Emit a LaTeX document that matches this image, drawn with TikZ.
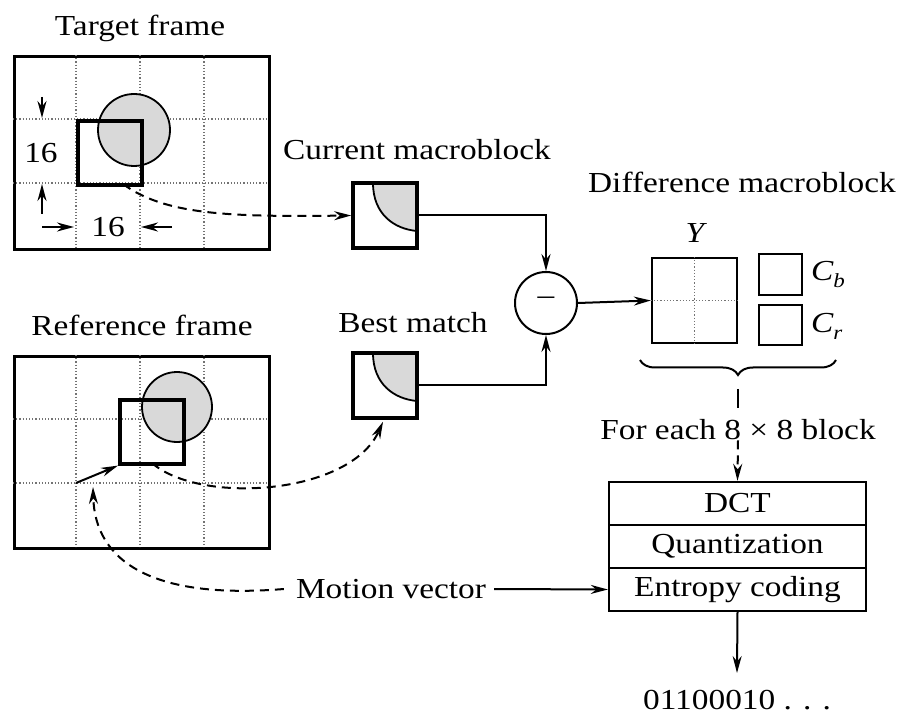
\documentclass[tikz,border=0pt]{standalone}
\usepackage{fontspec}
\setmainfont{Liberation Serif}[FakeStretch=1.15]
\usetikzlibrary{arrows.meta,decorations.pathreplacing}
\begin{document}
\begin{tikzpicture}[x=1pt,y=-1pt,
  lbl/.style={font=\fontsize{29}{32}\selectfont, inner sep=0pt},
  frame/.style={draw, line width=2.8pt, inner sep=0pt},
  mb/.style={draw, line width=3.6pt, inner sep=0pt},
  blk/.style={draw, line width=2.4pt, inner sep=0pt},
  gridl/.style={dotted, line width=1.2pt, black!55},
  conn/.style={line width=2pt, -{Stealth[length=17pt,width=9pt]}},
  dconn/.style={conn, dash pattern=on 9pt off 6pt},
  dline/.style={line width=2pt},
  shade/.style={fill=black!15},
]
\useasboundingbox (0,0) rectangle (900,719);

% ---------- Target frame ----------
\node[lbl] (ttl1) at (140,28) {Target frame};
\node[frame, minimum width=255pt, minimum height=193pt, anchor=north west] (tf) at (13,55) {};
\foreach \x in {76,140,204} \draw[gridl] (\x,55) -- (\x,248);
\foreach \y in {119,183} \draw[gridl] (13,\y) -- (268,\y);
\fill[shade] (134,130) circle (36pt);
\draw[line width=1.8pt] (134,130) circle (36pt);
\node[mb, minimum size=64pt, anchor=north west] (tsq) at (76,119) {};
\node[lbl] (d16a) at (41,153) {16};
\node[lbl] (d16b) at (108,227) {16};
\coordinate (va1) at (42,97);  \coordinate (va2) at (42,118);
\coordinate (vb1) at (42,214); \coordinate (vb2) at (42,184);
\coordinate (ha1) at (42,227); \coordinate (ha2) at (74,227);
\coordinate (hb1) at (172,227); \coordinate (hb2) at (141,227);
\draw[conn] (va1) -- (va2);
\draw[conn] (vb1) -- (vb2);
\draw[conn] (ha1) -- (ha2);
\draw[conn] (hb1) -- (hb2);

% ---------- Reference frame ----------
\node[lbl] (ttl2) at (142,325) {Reference frame};
\node[frame, minimum width=255pt, minimum height=192pt, anchor=north west] (rf) at (13,355) {};
\foreach \x in {76,140,204} \draw[gridl] (\x,355) -- (\x,547);
\foreach \y in {419,483} \draw[gridl] (13,\y) -- (268,\y);
\fill[shade] (177,407) circle (35pt);
\draw[line width=1.8pt] (177,407) circle (35pt);
\node[mb, minimum size=64pt, anchor=north west] (rsq) at (118,398) {};
\coordinate (gx) at (76,483);
\draw[conn] (gx) -- (rsq.south west);

% ---------- Current macroblock / best match ----------
\node[lbl] (ttl3) at (417,150) {Current macroblock};
\fill[shade] (373,183) .. controls (373,214) and (394,229) .. (417,231) -- (417,183) -- cycle;
\draw[line width=1.8pt] (373,183) .. controls (373,214) and (394,229) .. (417,231);
\node[mb, minimum width=64pt, minimum height=65pt] (cm) at (385,215.5) {};

\node[lbl] (ttl4) at (413,323) {Best match};
\fill[shade] (373,353) .. controls (373,384) and (394,399) .. (417,401) -- (417,353) -- cycle;
\draw[line width=1.8pt] (373,353) .. controls (373,384) and (394,399) .. (417,401);
\node[mb, minimum width=64pt, minimum height=65pt] (bm) at (385,385.5) {};

% subtractor
\node[draw, circle, line width=2pt, minimum size=62pt, inner sep=0pt] (sub) at (546,303) {};
\node[lbl] (minus) at (546,301) {--};
\draw[conn] (cm.east) -| (sub.north);
\draw[conn] (bm.east) -| (sub.south);

% ---------- Difference macroblock ----------
\node[lbl] (ttl5) at (742,182) {Difference macroblock};
\node[lbl] (ylab) at (695,233) {\itshape Y};
\node[blk, minimum width=85pt, minimum height=85pt] (yb) at (694.5,300.5) {};
\draw[gridl] (yb.north) -- (yb.south);
\draw[gridl] (yb.west) -- (yb.east);
\node[blk, minimum width=43pt, minimum height=41pt] (cb) at (780.5,274.5) {};
\node[blk, minimum width=43pt, minimum height=40pt] (cr) at (780.5,325) {};
\node[lbl, anchor=west] (cbl) at (811,274) {\itshape C\raisebox{-7pt}{\fontsize{20}{20}\selectfont b}};
\node[lbl, anchor=west] (crl) at (811,326) {\itshape C\raisebox{-7pt}{\fontsize{20}{20}\selectfont r}};
\draw[conn] (sub.east) -- (yb.west);
\draw[line width=2pt, decorate, decoration={brace, mirror, amplitude=15pt}] (640,360) -- (836,360);
\coordinate (bt) at (738,389);
\coordinate (bt1) at (738,408);

% ---------- Coding chain ----------
\node[lbl] (fe) at (738,430) {For each 8 × 8 block};
\draw[dline] (bt) -- (bt1);
\node[blk, minimum width=257pt, minimum height=43pt] (dct) at (737.5,503.5) {};
\node[blk, minimum width=257pt, minimum height=43pt] (qz) at (737.5,546.5) {};
\node[blk, minimum width=257pt, minimum height=43pt] (ec) at (737.5,589.5) {};
\node[lbl] at (dct) {DCT};
\node[lbl] at (qz) {Quantization};
\node[lbl] at (ec) {Entropy coding};
\draw[dconn] (fe.south) -- (dct.north);
\node[lbl] (bits) at (737,700) {01100010 . . .};
\coordinate (bt2) at (737,673);
\draw[conn] (ec.south) -- (bt2);

% ---------- Motion vector ----------
\node[lbl] (mv) at (391,589) {Motion vector};
\draw[conn] (mv.east) ++(8pt,0) -- (ec.west);
\coordinate (mvt) at (93,487);
\draw[dconn] ([xshift=-12pt]mv.west) .. controls (150,600) and (95,560) .. (mvt);

% ---------- dashed motion paths ----------
\coordinate (ts) at (123,184);
\draw[dconn] (ts) .. controls (165,215) and (230,217) .. (cm.west);
\coordinate (rs) at (152,463);
\draw[dconn] (rs) .. controls (200,505) and (350,495) .. ([xshift=-2pt,yshift=-2pt]bm.south);
\end{tikzpicture}
\end{document}
